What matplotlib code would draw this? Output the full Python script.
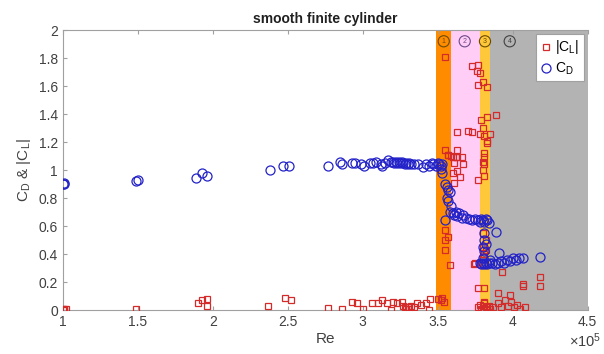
import matplotlib
matplotlib.use('Agg')
import matplotlib.pyplot as plt
import numpy as np

plt.rcParams['font.family'] = ['Liberation Sans', 'DejaVu Sans']
plt.rcParams['mathtext.default'] = 'regular'

# Re values in units of 1e5
re_cd = [1.00, 1.005, 1.01, 1.49, 1.50, 1.89, 1.93, 1.96, 2.38, 2.47, 2.51,
         2.77, 2.85, 2.86, 2.93, 2.95, 2.99, 3.01, 3.05, 3.07, 3.09, 3.12, 3.13,
         3.15, 3.17, 3.19, 3.20, 3.21, 3.22, 3.23, 3.24, 3.25, 3.26, 3.27, 3.28,
         3.29, 3.30, 3.31, 3.32, 3.34, 3.37, 3.40, 3.42, 3.44, 3.46, 3.47, 3.49,
         3.50, 3.51, 3.52, 3.53, 3.52, 3.53,
         3.55, 3.56, 3.57, 3.58, 3.56, 3.57,
         3.59, 3.58, 3.60, 3.61, 3.62, 3.63, 3.64, 3.66, 3.67, 3.69, 3.71, 3.73,
         3.75, 3.77, 3.78, 3.79, 3.80, 3.81, 3.82, 3.83, 3.84, 3.55,
         3.89, 3.81, 3.81, 3.82, 3.80, 3.81, 3.91,
         3.78, 3.79, 3.80, 3.81, 3.82, 3.83, 3.84, 3.86, 3.88, 3.90, 3.92, 3.94,
         3.96, 3.98, 4.00, 4.02, 4.04, 4.07, 4.18, 3.80, 3.85]
cd = [0.90, 0.91, 0.90, 0.92, 0.93, 0.94, 0.98, 0.96, 1.00, 1.03, 1.03,
      1.03, 1.06, 1.04, 1.05, 1.05, 1.04, 1.03, 1.05, 1.05, 1.06, 1.04, 1.03,
      1.05, 1.07, 1.06, 1.06, 1.05, 1.06, 1.05, 1.06, 1.05, 1.06, 1.05, 1.04,
      1.05, 1.04, 1.05, 1.04, 1.04, 1.04, 1.02, 1.04, 1.03, 1.05, 1.04, 1.03,
      1.05, 1.04, 1.03, 1.04, 1.01, 0.98,
      0.90, 0.88, 0.86, 0.84, 0.80, 0.78,
      0.74, 0.70, 0.69, 0.68, 0.70, 0.67, 0.69, 0.66, 0.68, 0.66, 0.65, 0.64,
      0.65, 0.64, 0.63, 0.65, 0.64, 0.63, 0.65, 0.64, 0.62, 0.64,
      0.56, 0.55, 0.50, 0.47, 0.45, 0.42, 0.41,
      0.34, 0.33, 0.34, 0.33, 0.34, 0.33, 0.34, 0.34, 0.33, 0.34, 0.35, 0.34,
      0.36, 0.35, 0.37, 0.36, 0.37, 0.37, 0.38, 0.37, 0.36]

re_cl = [1.00, 1.01, 1.02, 1.005, 1.49, 1.90, 1.93, 1.96, 1.96, 2.37, 2.48, 2.52,
         2.77, 2.86, 2.93, 2.96, 3.00, 3.06, 3.10, 3.13, 3.16, 3.19, 3.20, 3.23,
         3.26, 3.27, 3.28, 3.29, 3.30, 3.30, 3.31, 3.32, 3.34, 3.36, 3.39, 3.42,
         3.44, 3.45, 3.50, 3.52, 3.53, 3.54,
         3.55, 3.73, 3.77, 3.76, 3.78, 3.77, 3.80, 3.83,
         3.79, 3.83, 3.89,
         3.63, 3.70, 3.73, 3.78, 3.80, 3.81, 3.83, 3.83, 3.85,
         3.55, 3.57, 3.59, 3.63, 3.62, 3.81, 3.81,
         3.57, 3.60, 3.63, 3.61, 3.66, 3.67, 3.60, 3.61, 3.63, 3.65,
         3.77, 3.80, 3.81, 3.80, 3.81,
         3.55, 3.55, 3.57, 3.55, 3.58,
         3.80, 3.82, 3.80, 3.82, 3.81, 3.80, 3.74, 3.81,
         3.93, 4.18, 4.18, 4.07, 4.07, 3.77, 3.81, 3.90, 3.98,
         3.77, 3.78, 3.79, 3.80, 3.81, 3.82, 3.83, 3.84, 3.85, 3.87, 3.79, 3.81,
         3.90, 3.92, 3.95, 3.97, 3.99, 4.01, 4.03, 4.05, 4.08, 3.75]
cl = [0.01, 0.01, 0.005, 0.0, 0.01, 0.05, 0.07, 0.08, 0.03, 0.03, 0.09, 0.07,
      0.015, 0.01, 0.06, 0.05, 0.01, 0.05, 0.05, 0.07, 0.05, 0.0, 0.06, 0.05,
      0.06, 0.03, 0.02, 0.01, 0.02, 0.01, 0.02, 0.03, 0.02, 0.05, 0.04, 0.05,
      0.0, 0.08, 0.08, 0.07, 0.09, 0.06,
      1.81, 1.74, 1.75, 1.71, 1.69, 1.61, 1.63, 1.59,
      1.36, 1.38, 1.39,
      1.27, 1.28, 1.27, 1.26, 1.30, 1.24, 1.21, 1.19, 1.26,
      1.14, 1.11, 1.10, 1.14, 1.09, 1.12, 1.09,
      1.11, 1.09, 1.09, 1.05, 1.09, 1.04, 0.98, 0.91, 0.99, 0.95,
      0.93, 1.06, 1.04, 1.00, 0.96,
      0.57, 0.50, 0.52, 0.43, 0.32,
      0.55, 0.50, 0.45, 0.43, 0.40, 0.38, 0.33, 0.32,
      0.27, 0.24, 0.17, 0.19, 0.17, 0.16, 0.16, 0.12, 0.11,
      0.02, 0.04, 0.01, 0.03, 0.05, 0.02, 0.00, 0.03, 0.01, 0.02, 0.00, 0.06,
      0.05, 0.02, 0.07, 0.03, 0.06, 0.02, 0.04, 0.01, 0.02, 0.34]

# flow regime bands (Re/1e5)
band_edges = [3.49, 3.59, 3.78, 3.85, 4.5]
band_colors = ['#ff8c00', '#ffcdf5', '#ffc83a', '#b3b3b3']
band_labels = ['1', '2', '3', '4']
label_x = [3.54, 3.68, 3.815, 3.98]
label_colors = ['#6b4a00', '#6a4a8a', '#6b4a00', '#404040']

fig = plt.figure(figsize=(6.04, 3.54), dpi=100)
ax = fig.add_axes([0.104, 0.124, 0.869, 0.791])

for i in range(len(band_colors)):
    ax.axvspan(band_edges[i], band_edges[i + 1], color=band_colors[i], lw=0, zorder=0)
    ax.text(label_x[i], 1.92, band_labels[i], ha='center', va='center', fontsize=5,
            color=label_colors[i],
            bbox=dict(boxstyle='circle,pad=0.3', fc='none', ec=label_colors[i], lw=0.8))

ax.plot(re_cl, cl, ls='none', marker='s', ms=5, mfc='none', mec='#d42a2a', mew=0.9,
        label='|C$_L$|', zorder=3)
ax.plot(re_cd, cd, ls='none', marker='o', ms=6.5, mfc='none', mec='#2222c8', mew=0.9,
        label='C$_D$', zorder=3)

ax.set_xlim(1, 4.5)
ax.set_ylim(0, 2)
ax.set_xticks(np.arange(1, 4.51, 0.5))
ax.set_xticklabels(['1', '1.5', '2', '2.5', '3', '3.5', '4', '4.5'])
ax.set_yticks(np.arange(0, 2.01, 0.2))
ax.set_yticklabels(['0', '0.2', '0.4', '0.6', '0.8', '1', '1.2', '1.4', '1.6', '1.8', '2'])
ax.tick_params(direction='in', length=3, colors='#a0a0a0', labelcolor='#404040',
               labelsize=10, top=True, right=False)
for s in ax.spines.values():
    s.set_color('#a0a0a0')
    s.set_linewidth(0.8)
ax.spines['right'].set_visible(False)

ax.set_title('smooth finite cylinder', fontsize=10, fontweight='bold', color='#202020', pad=5)
ax.set_xlabel('Re', fontsize=11, color='#404040', labelpad=2)
ax.set_ylabel('C$_D$ & |C$_L$|', fontsize=11, color='#404040', labelpad=4)
ax.text(1.025, -0.075, '×10$^5$', transform=ax.transAxes, ha='right', va='top',
        fontsize=10.5, color='#404040')

leg = ax.legend(loc='upper right', fontsize=10, handlelength=0.8, handletextpad=0.3,
                borderpad=0.3, labelspacing=0.3, fancybox=False, framealpha=1,
                borderaxespad=0.3)
leg.get_frame().set_edgecolor('#a0a0a0')
leg.get_frame().set_linewidth(0.8)

fig.savefig('out.png', dpi=100)
